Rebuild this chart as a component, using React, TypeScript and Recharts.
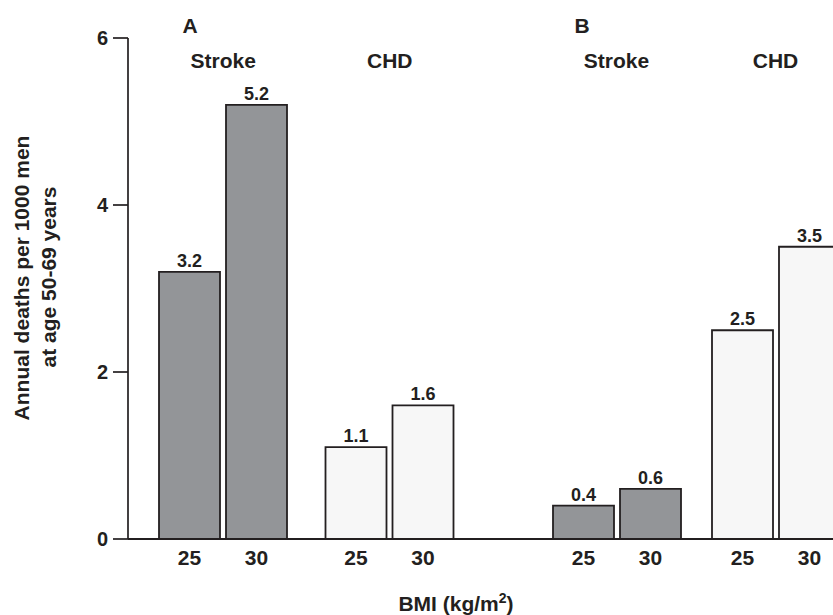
import React from "react";
import { BarChart, Bar, XAxis, YAxis, Cell, LabelList } from "recharts";

const categories = ["Stroke", "CHD"];
const bmiLevels = ["25", "30"];
const panelLabels = ["A", "B"];
const panelA_bmi25 = [3.2, 1.1];
const panelA_bmi30 = [5.2, 1.6];
const panelB_bmi25 = [0.4, 2.5];
const panelB_bmi30 = [0.6, 3.5];
const yTicks = [0, 2, 4, 6];

const INK = "#231f20";
const FONT = "'Liberation Sans', Arial, Helvetica, sans-serif";
const fills: Record<string, string> = { Stroke: "#939598", CHD: "#f7f7f7" };

const makeRows = (v25: number[], v30: number[]) =>
  categories.map((c, i) => ({ category: c, bmi25: v25[i], bmi30: v30[i] }));

const rowsA = makeRows(panelA_bmi25, panelA_bmi30);
const rowsB = makeRows(panelB_bmi25, panelB_bmi30);

const textStyle = { fill: INK, fontFamily: FONT, fontWeight: 700 };

interface PanelProps {
  data: Array<{ category: string; bmi25: number; bmi30: number }>;
  width: number;
  left: number;
  showY: boolean;
  padding: { left: number; right: number };
}

const Panel: React.FC<PanelProps> = ({ data, width, left, showY, padding }) => (
  <div style={{ position: "absolute", left, top: 0 }}>
    <BarChart
      width={width}
      height={615}
      data={data}
      margin={{ top: 38, right: 0, bottom: 0, left: 0 }}
      barSize={61}
      barGap={6}
    >
      <YAxis
        hide={!showY}
        width={128}
        domain={[0, 6]}
        ticks={yTicks}
        tickSize={15}
        tickMargin={5}
        axisLine={{ stroke: INK, strokeWidth: 1.7 }}
        tickLine={{ stroke: INK, strokeWidth: 1.7 }}
        tick={{ ...textStyle, fontSize: 20 }}
      />
      <XAxis
        dataKey="category"
        height={76}
        padding={padding}
        tick={false}
        tickLine={false}
        axisLine={{ stroke: INK, strokeWidth: 2 }}
      />
      <XAxis
        xAxisId="top"
        orientation="top"
        mirror
        dataKey="category"
        padding={padding}
        axisLine={false}
        tickLine={false}
        tickSize={0}
        tickMargin={15}
        tick={{ ...textStyle, fontSize: 21 }}
      />
      {(["bmi25", "bmi30"] as const).map((key, k) => (
        <Bar key={key} dataKey={key} stroke={INK} strokeWidth={1.8} isAnimationActive={false}>
          {data.map((d) => (
            <Cell key={d.category} fill={fills[d.category]} />
          ))}
          <LabelList position="top" offset={5} {...textStyle} fontSize={18} />
          <LabelList
            position="bottom"
            offset={11}
            formatter={() => bmiLevels[k]}
            {...textStyle}
            fontSize={21}
          />
        </Bar>
      ))}
    </BarChart>
  </div>
);

export default function App() {
  return (
    <div
      style={{
        position: "absolute",
        left: 0,
        top: 0,
        width: 833,
        height: 615,
        overflow: "hidden",
        background: "#fff",
      }}
    >
      <Panel data={rowsA} width={500} left={0} showY padding={{ left: 12, right: 27 }} />
      <Panel data={rowsB} width={400} left={500} showY={false} padding={{ left: 37, right: 45 }} />
      <svg
        width={833}
        height={615}
        style={{ position: "absolute", left: 0, top: 0, pointerEvents: "none" }}
      >
        <g style={{ ...textStyle, fontSize: 21 } as React.CSSProperties}>
          <text x={190} y={33} textAnchor="middle" fill={INK}>
            {panelLabels[0]}
          </text>
          <text x={582} y={33} textAnchor="middle" fill={INK}>
            {panelLabels[1]}
          </text>
          <text
            transform="translate(29 278) rotate(-90)"
            textAnchor="middle"
            fill={INK}
          >
            Annual deaths per 1000 men
          </text>
          <text
            transform="translate(56 277) rotate(-90)"
            textAnchor="middle"
            fill={INK}
          >
            at age 50-69 years
          </text>
          <text x={456} y={611} textAnchor="middle" fill={INK}>
            BMI (kg/m
            <tspan dy={-8} fontSize={14}>
              2
            </tspan>
            <tspan dy={8}>)</tspan>
          </text>
        </g>
      </svg>
    </div>
  );
}
